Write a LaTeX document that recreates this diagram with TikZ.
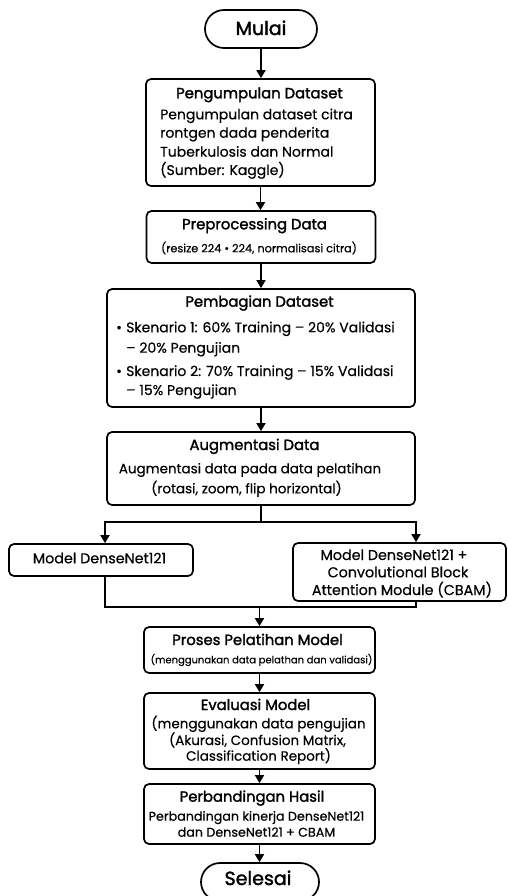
\documentclass[tikz,border=0pt]{standalone}
\usepackage{fontspec}
\setmainfont{Poppins}[FakeBold=0.4]
\newfontfamily\titlefont[FakeBold=1.8]{Poppins}
\usetikzlibrary{arrows.meta}
\newcommand{\fsz}[1]{\fontsize{#1}{#1}\selectfont}
\begin{document}
\begin{tikzpicture}[x=1pt,y=-1pt,
  box/.style={draw, line width=1.7pt, rounded corners=5pt, inner sep=0pt},
  term/.style={draw, line width=1.7pt, rounded corners=19pt, inner sep=0pt},
  ln/.style={line width=1.7pt},
  arr/.style={line width=1.7pt, -{Triangle[length=8pt,width=9pt]}},
  ttl/.style={font=\titlefont\fsz{14.8}, anchor=base, inner sep=0pt},
  txt/.style={font=\fsz{13.5}, anchor=base, inner sep=0pt},
  txtl/.style={font=\fsz{14}, anchor=base west, inner sep=0pt}]
\useasboundingbox (0,0) rectangle (507,896);
% shapes
\node[term, minimum width=112pt, minimum height=38pt] (m) at (261,29) {};
\node[box, minimum width=229pt, minimum height=107pt] (b1) at (260.5,132.5) {};
\node[box, minimum width=229pt, minimum height=52pt] (b2) at (261,237) {};
\node[box, minimum width=308pt, minimum height=118pt] (b3) at (261,348) {};
\node[box, minimum width=308pt, minimum height=73pt] (b4) at (261,468.5) {};
\node[box, minimum width=184pt, minimum height=32pt] (b5) at (101,560) {};
\node[box, minimum width=213pt, minimum height=58pt] (b6) at (399.5,572) {};
\node[box, minimum width=231pt, minimum height=46pt] (b7) at (259.5,650) {};
\node[box, minimum width=231pt, minimum height=76pt] (b8) at (259.5,731) {};
\node[box, minimum width=231pt, minimum height=60pt] (b9) at (259.5,814) {};
\node[term, minimum width=118pt, minimum height=38pt] (s) at (260,882) {};
% texts
\node[font=\titlefont\fsz{19}, anchor=base, inner sep=0pt] (tm) at (261,35) {Mulai};
\node[ttl] (t1) at (259.5,98.3) {Pengumpulan Dataset};
\node[txtl] (t1a) at (160,119.3) {Pengumpulan dataset citra};
\node[txtl] (t1b) at (160,137.7) {rontgen dada penderita};
\node[txtl] (t1c) at (160,156.7) {Tuberkulosis dan Normal};
\node[txtl] (t1d) at (160,175) {(Sumber: Kaggle)};
\node[ttl] (t2) at (254.5,229.3) {Preprocessing Data};
\node[txt, font=\fsz{11.3}] (t2a) at (259,252.3) {(resize 224 • 224, normalisasi citra)};
\node[ttl] (t3) at (259.5,306.7) {Pembagian Dataset};
\node[txtl] (t3p) at (116,332.3) {•};
\node[txtl] (t3a) at (126,332.3) {Skenario 1: 60\% Training – 20\% Validasi};
\node[txtl] (t3b) at (126,352.7) {– 20\% Pengujian};
\node[txtl] (t3q) at (116,376) {•};
\node[txtl] (t3c) at (126,376) {Skenario 2: 70\% Training – 15\% Validasi};
\node[txtl] (t3d) at (126,395) {– 15\% Pengujian};
\node[ttl] (t4) at (254.5,450) {Augmentasi Data};
\node[txt] (t4a) at (250,473.3) {Augmentasi data pada data pelatihan};
\node[txt] (t4b) at (246.5,493.3) {(rotasi, zoom, flip horizontal)};
\node[txt, font=\fsz{14.3}] (t5) at (99.5,563.3) {Model DenseNet121};
\node[txt, font=\fsz{14.3}] (t6a) at (394,560) {Model DenseNet121 +};
\node[txt, font=\fsz{14.3}] (t6b) at (398,577.3) {Convolutional Block};
\node[txt, font=\fsz{14.3}] (t6c) at (402,595) {Attention Module (CBAM)};
\node[ttl] (t7) at (257.5,645) {Proses Pelatihan Model};
\node[txt, font=\fsz{10}] (t7a) at (261.5,663.3) {(menggunakan data pelathan dan validasi)};
\node[ttl] (t8) at (255.5,710) {Evaluasi Model};
\node[txt] (t8a) at (258.5,728.3) {(menggunakan data pengujian};
\node[txt] (t8b) at (257.5,745) {(Akurasi, Confusion Matrix,};
\node[txt] (t8c) at (258.5,760.7) {Classification Report)};
\node[ttl] (t9) at (252,801.7) {Perbandingan Hasil};
\node[txt, font=\fsz{12.7}] (t9a) at (256.5,820.7) {Perbandingan kinerja DenseNet121};
\node[txt, font=\fsz{12.7}] (t9b) at (256.5,836.7) {dan DenseNet121 + CBAM};
\node[font=\titlefont\fsz{19}, anchor=base, inner sep=0pt] (ts) at (258,885) {Selesai};
% connectors
\draw[arr] (m.south) -- (m.south |- b1.north);
\draw[arr] (b1.south) -- (b1.south |- b2.north);
\draw[arr] (b2.south) -- (b2.south |- b3.north);
\draw[arr] (b3.south) -- (b3.south |- b4.north);
\coordinate (split) at (261,522);
\draw[ln] (b4.south) -- (split);
\draw[arr] (split) -| ([xshift=4pt]b5.north);
\draw[arr] (split) -| ([xshift=16.5pt]b6.north);
\coordinate (merge) at (259.5,607);
\draw[ln] ([xshift=4pt]b5.south) |- (merge) -| ([xshift=16.5pt]b6.south);
\draw[arr] (merge) -- (b7.north);
\draw[arr] (b7.south) -- (b8.north);
\draw[arr] (b8.south) -- (b9.north);
\draw[arr] (b9.south) -- (b9.south |- s.north);
\end{tikzpicture}
\end{document}
